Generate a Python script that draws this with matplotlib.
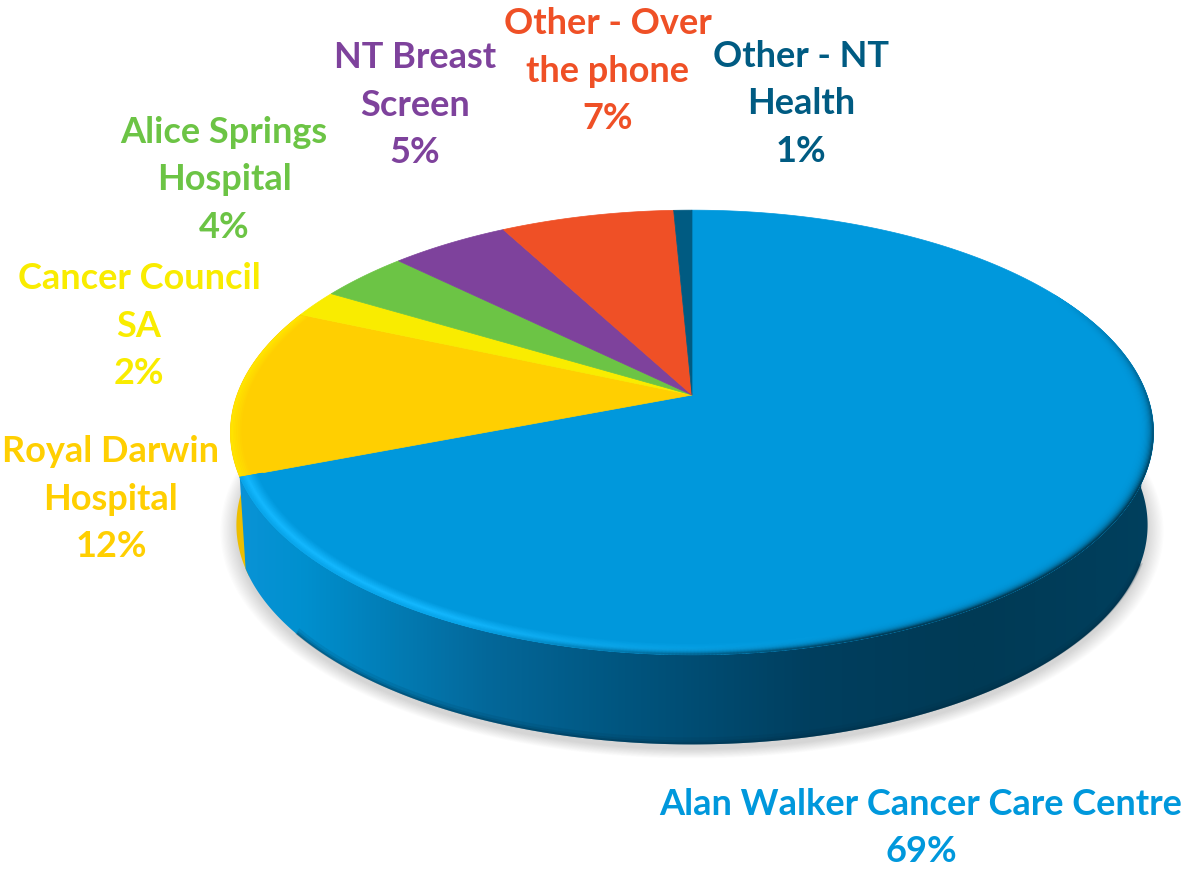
import numpy as np
import matplotlib
matplotlib.use("Agg")
import matplotlib.pyplot as plt
from matplotlib.collections import LineCollection
from matplotlib.colors import LinearSegmentedColormap, to_rgb
from matplotlib.patches import Polygon

# ---- data ----
labels = ["Alan Walker Cancer Care Centre", "Royal Darwin\nHospital", "Cancer Council\nSA",
          "Alice Springs\nHospital", "NT Breast\nScreen", "Other - Over\nthe phone", "Other - NT\nHealth"]
values = [69.2, 12.3, 2.0, 3.7, 4.9, 7.15, 0.75]
colors = ["#0098DC", "#FFCF01", "#F9EC00", "#6CC445", "#7E429C", "#EF5026", "#005B82"]
label_xy = [(921, 828), (111, 499), (139, 326), (224, 180), (415, 105), (608, 71), (801, 104)]

# ---- projection of the unit disc to the picture ----
CX, CY = 692.0, 395.0
RX, A, C = 455.0, 216.0, 0.1685
DEPTH, BOTTOM_SCALE = 93.0, 0.987


def project(theta, r=1.0, scale=1.0, drop=0.0):
    """theta in degrees, clockwise from 12 o'clock."""
    t = np.radians(theta)
    X, Y = r * np.sin(t), r * np.cos(t)
    w = 1 + C * Y
    return CX + scale * RX * X / w, CY - scale * A * Y / w + drop


def arc(t0, t1, **kw):
    t = np.linspace(t0, t1, max(int(abs(t1 - t0) * 4), 8))
    x, y = project(t, **kw)
    return np.column_stack([x, y])


def mix(a, b, w):
    rgb = (1 - w) * np.array(to_rgb(a)) + w * np.array(to_rgb(b))
    return tuple(float(v) for v in np.clip(rgb, 0, 1))


fig = plt.figure(figsize=(11.89, 8.72), dpi=100)
ax = fig.add_axes([0, 0, 1, 1])
ax.set_xlim(0, 1189)
ax.set_ylim(872, 0)
ax.axis("off")

cum = np.cumsum([0] + values) / sum(values) * 360.0
blue_end = cum[1]
yellow_end = cum[2]

# soft shadow
for k in np.linspace(1.035, 1.0, 14):
    ax.add_patch(Polygon(arc(0, 360, scale=BOTTOM_SCALE * k, drop=DEPTH + 5),
                         closed=True, fc="#808080", ec="none", alpha=0.024, zorder=1))

# yellow side
pts = np.vstack([arc(blue_end - 2, yellow_end), arc(yellow_end, blue_end - 2, scale=BOTTOM_SCALE, drop=DEPTH)])
ax.add_patch(Polygon(pts, closed=True, fc="#EDBE00", ec="none", zorder=2))

# blue side with horizontal gradient
side_stops = [(0.0, "#0A93D6"), (0.07, "#0090CF"), (0.27, "#04689A"), (0.42, "#00557F"),
              (0.62, "#003F5F"), (0.80, "#003A55"), (1.0, "#00405E")]
side_cmap = LinearSegmentedColormap.from_list("side", side_stops)
pts = np.vstack([arc(90, blue_end), arc(blue_end, 90, scale=BOTTOM_SCALE, drop=DEPTH)])
side = Polygon(pts, closed=True, fc="none", ec="none", zorder=3)
ax.add_patch(side)
img = ax.imshow(np.linspace(0, 1, 512)[None, :], cmap=side_cmap, extent=(236, 1160, 770, 380),
                aspect="auto", zorder=3, interpolation="bilinear")
img.set_clip_path(side)
ax.set_xlim(0, 1189)
ax.set_ylim(872, 0)

# darker lip along the lower edge of the side
t = np.linspace(110, 232, 300)
for w, al in [(7, 0.10), (4, 0.14), (2, 0.25)]:
    x, y = project(t, scale=BOTTOM_SCALE, drop=DEPTH - w / 2)
    ax.plot(x, y, color="#002A40", lw=w * 0.72, alpha=al, zorder=3.5, solid_capstyle="butt")

# top face wedges
face_patches = []
for v0, v1, col in zip(cum[:-1], cum[1:], colors):
    pts = np.vstack([[CX, CY], arc(v0, v1)])
    face_patches.append(ax.add_patch(Polygon(pts, closed=True, fc=col, ec=col, lw=0.5, zorder=4)))

# bevel on the blue wedge rim
HIGH, DARK = "#14B8FF", "#003A55"
radii = np.linspace(0.955, 1.0, 20)
theta = np.linspace(60, blue_end, 500)
for r in radii:
    u = (r - 0.955) / 0.045
    hi = max(0.0, 1 - abs(u - 0.72) / 0.5)
    dk = u ** 5
    segs, cols = [], []
    x, y = project(theta, r=r)
    for i in range(len(theta) - 1):
        th = theta[i]
        hw = np.clip((th - 160) / 50, 0, 1)  # highlight on the left
        dw = np.clip((205 - th) / 45, 0, 1) * np.clip((th - 60) / 55, 0, 1)  # dark on the right
        c = mix(colors[0], HIGH, hi * hw)
        c = mix(c, DARK, dk * dw * 0.95)
        segs.append([(x[i], y[i]), (x[i + 1], y[i + 1])])
        cols.append(c)
    lc = LineCollection(segs, colors=cols, linewidths=1.9, zorder=5, capstyle="round")
    ax.add_collection(lc)
    lc.set_clip_path(face_patches[0])

# bevel on the yellow wedge rim
theta = np.linspace(blue_end + 0.4, yellow_end - 0.5, 120)
for r in np.linspace(0.975, 1.0, 8):
    x, y = project(theta, r=r)
    line, = ax.plot(x, y, color=mix(colors[1], "#FFE600", (r - 0.975) / 0.025), lw=1.4, zorder=5)
    line.set_clip_path(face_patches[1])

# labels
for name, v, col, (lx, ly) in zip(labels, values, colors, label_xy):
    ax.text(lx, ly, f"{name}\n{round(v)}%", color=col, ha="center", va="center", ma="center",
            fontsize=26, fontweight="bold", family="Lato", linespacing=1.55, zorder=10)

fig.savefig("out.png", dpi=100)
